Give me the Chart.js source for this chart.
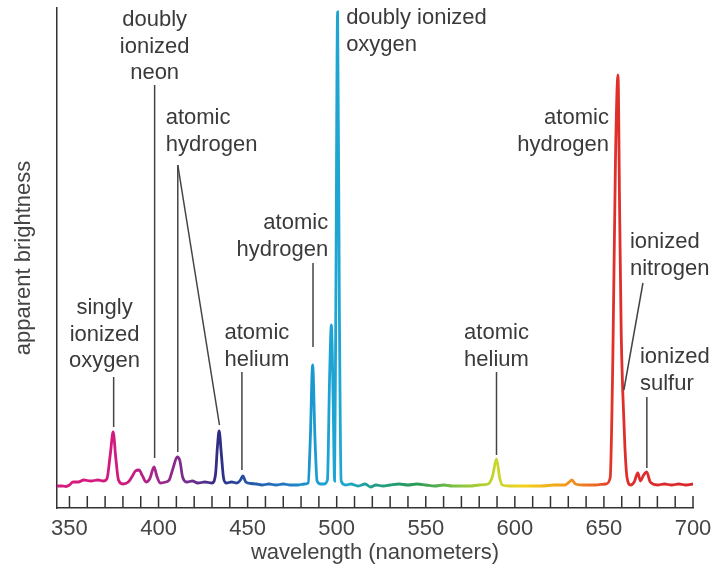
<!DOCTYPE html>
<html>
<head>
<meta charset="utf-8">
<script src="https://cdn.jsdelivr.net/npm/chart.js@4/dist/chart.umd.min.js"></script>
<style>
  html, body { margin: 0; padding: 0; background: #fff; }
  #wrap { width: 725px; height: 572px; }
</style>
</head>
<body>
<div id="wrap"><canvas id="graph"></canvas></div>
<script>
// spectrum: wavelength (nm) and apparent brightness (0-100)
var wavelengths = [
  343, 346, 348, 350, 352, 355, 358, 362, 366, 369, 371, 373, 374.5, 376, 377.5,
  380, 383, 385, 387, 389, 391, 393, 395, 397.5, 399, 401, 404, 406, 408, 410.5,
  412, 413.5, 416, 419, 422, 426, 430, 432, 433, 434, 435.2, 436.5, 438, 441, 444,
  446, 447.3, 449, 452, 455, 458, 462, 466, 470, 474, 478, 482, 484, 485.2, 486.5,
  487.8, 489, 491, 493, 494.8, 496, 497, 498, 498.8, 499.5, 500.5, 501.5, 502.5, 505, 508,
  512, 516, 519, 522, 526, 530, 535, 540, 545, 550, 555, 560, 565, 570, 575,
  580, 585, 587.5, 589.7, 591.5, 593, 597, 602, 608, 615, 622, 628, 630.5, 632, 634,
  638, 645, 651, 653.5, 655, 656.5, 657.9, 658.8, 659.7, 660.6, 661.8, 663, 665, 667, 669,
  670.5, 672, 674, 676, 680, 684, 688, 692, 696, 700
];
var brightness = [
  4.4, 4.4, 4.3, 4.6, 5.2, 5.2, 5.6, 5.4, 5.6, 5.4, 5.8, 11, 15.2, 10, 5.6,
  4.8, 5.2, 6.2, 7.4, 7.6, 6.4, 5.2, 5.8, 8.2, 6.4, 5.0, 5.2, 5.6, 7.8, 10.2,
  9.4, 6.2, 5.2, 5.4, 5.0, 5.2, 5.0, 6.8, 12, 15.4, 11, 6, 5.0, 5.2, 5.0,
  5.6, 6.4, 5.2, 4.9, 4.8, 4.6, 4.8, 4.6, 4.8, 4.6, 4.6, 4.8, 5.0, 14, 28.6,
  14, 5.4, 4.8, 4.8, 5.6, 26, 36.6, 22, 5.4, 40, 99.2, 40, 5.4, 4.6, 4.8,
  4.4, 4.8, 4.2, 4.6, 4.4, 4.6, 4.8, 4.6, 4.8, 4.6, 4.4, 4.6, 4.4, 4.4, 4.4,
  4.6, 4.8, 6.4, 9.8, 6, 4.6, 4.4, 4.4, 4.4, 4.4, 4.6, 4.6, 5.2, 5.6, 4.8,
  4.6, 4.6, 4.8, 6, 30, 70, 86.6, 60, 35, 23, 12, 6, 4.6, 5.2, 7,
  5.4, 6.4, 7.2, 5.2, 4.6, 4.8, 4.6, 4.8, 4.6, 4.8
];
var xLabelEvery = 50;

// rainbow along the wavelength axis
var colorStopsNm = [343, 380, 400, 420, 434, 450, 475, 490, 505, 520, 545, 570, 590, 605, 625, 645, 655, 700];
var colorStops = ['#d81b7e', '#d0197f', '#a0288a', '#6a2f8f', '#2e2c84', '#2455a8', '#1f80c5', '#1aa0d5',
                  '#20a8d0', '#1f9e8a', '#2b9a58', '#8cc63f', '#c8d62b', '#f3d21a', '#f3a21e', '#ec6a25',
                  '#e0302a', '#d9262d'];

// annotation labels: text lines, where the text sits (nm, brightness) and leader lines
var notes = [
  {lines: ['doubly', 'ionized', 'neon'], at: [397.8, 97.6], align: 'center', leaders: [[397.8, 84.6, 397.8, 10]]},
  {lines: ['atomic', 'hydrogen'], at: [404, 78], align: 'left', leaders: [[410.8, 68.6, 410.8, 11.2], [410.8, 68.6, 434.2, 16.6]]},
  {lines: ['singly', 'ionized', 'oxygen'], at: [369.7, 40], align: 'center', leaders: [[374.8, 26.2, 374.8, 16.2]]},
  {lines: ['atomic', 'helium'], at: [455.2, 35], align: 'center', leaders: [[446.8, 27.2, 446.8, 7.6]]},
  {lines: ['atomic', 'hydrogen'], at: [495.2, 57], align: 'right', leaders: [[486.7, 49, 486.7, 32.2]]},
  {lines: ['doubly ionized', 'oxygen'], at: [505.3, 98], align: 'left', leaders: []},
  {lines: ['atomic', 'hydrogen'], at: [652.8, 78], align: 'right', leaders: []},
  {lines: ['ionized', 'nitrogen'], at: [664.6, 53.2], align: 'left', leaders: [[671.9, 45, 661.2, 23.6]]},
  {lines: ['ionized', 'sulfur'], at: [670.2, 30.2], align: 'left', leaders: [[674.1, 22.2, 674.1, 8]]},
  {lines: ['atomic', 'helium'], at: [589.7, 35], align: 'center', leaders: [[589.7, 27.2, 589.7, 10.6]]}
];

var points = wavelengths.map(function(w, i){ return {x: w, y: brightness[i]}; });

function rainbow(context){
    var chart = context.chart;
    var area = chart.chartArea;
    if (!area) return '#d9262d';
    var xs = chart.scales.x;
    var x0 = xs.getPixelForValue(colorStopsNm[0]);
    var x1 = xs.getPixelForValue(colorStopsNm[colorStopsNm.length - 1]);
    var g = chart.ctx.createLinearGradient(x0, 0, x1, 0);
    for (var i = 0; i < colorStopsNm.length; i++){
        var p = (xs.getPixelForValue(colorStopsNm[i]) - x0) / (x1 - x0);
        g.addColorStop(Math.min(1, Math.max(0, p)), colorStops[i]);
    }
    return g;
}

var inwardTicksAndNotes = {
    id: 'inwardTicksAndNotes',
    afterDraw: function(chart){
        var c = chart.ctx;
        var xs = chart.scales.x, ys = chart.scales.y;
        var bottom = chart.chartArea.bottom;
        c.save();
        c.strokeStyle = '#333';
        c.lineWidth = 1.5;
        xs.ticks.forEach(function(t){
            if (t.value % 10 !== 0) return;
            var px = xs.getPixelForValue(t.value);
            c.beginPath();
            c.moveTo(px, bottom);
            c.lineTo(px, bottom - 12);
            c.stroke();
        });

        c.font = '22px "Liberation Sans", Arial, sans-serif';
        c.fillStyle = '#3a3a3a';
        c.textBaseline = 'middle';
        c.strokeStyle = '#444';
        c.lineWidth = 1.5;
        notes.forEach(function(n){
            c.textAlign = n.align;
            var tx = xs.getPixelForValue(n.at[0]);
            var ty = ys.getPixelForValue(n.at[1]);
            n.lines.forEach(function(line, i){
                c.fillText(line, tx, ty + i * 26.5);
            });
            n.leaders.forEach(function(l){
                c.beginPath();
                c.moveTo(xs.getPixelForValue(l[0]), ys.getPixelForValue(l[1]));
                c.lineTo(xs.getPixelForValue(l[2]), ys.getPixelForValue(l[3]));
                c.stroke();
            });
        });
        c.restore();
    }
};

var chart_context = document.getElementById('graph').getContext('2d');
var chart = new Chart(chart_context, {
    type: 'line',
    data: {
        datasets: [{
            data: points,
            borderColor: rainbow,
            borderWidth: 2.8,
            pointRadius: 0,
            tension: 0.25,
            cubicInterpolationMode: 'monotone',
            fill: false
        }]
    },
    options: {
        responsive: true,
        maintainAspectRatio: false,
        animation: false,
        layout: { padding: {top: 8, right: 32, left: 0, bottom: 7} },
        plugins: { legend: {display: false}, tooltip: {enabled: false} },
        scales: {
            x: {
                type: 'linear',
                min: 343,
                max: 700,
                grid: { display: false, drawTicks: false },
                border: { display: true, color: '#333', width: 1.5 },
                afterFit: function(s){ s.height = 57; },
                ticks: {
                    stepSize: 10,
                    includeBounds: false,
                    autoSkip: false,
                    maxRotation: 0,
                    padding: 8,
                    color: '#444',
                    font: { family: '"Liberation Sans", Arial, sans-serif', size: 22 },
                    callback: function(v){ return v % xLabelEvery === 0 ? v : ''; }
                },
                title: {
                    display: true,
                    text: 'wavelength (nanometers)',
                    color: '#444',
                    padding: {top: 0, bottom: 0},
                    font: { family: '"Liberation Sans", Arial, sans-serif', size: 22, lineHeight: 1.1 }
                }
            },
            y: {
                min: 0,
                max: 100,
                grid: { display: false, drawTicks: false },
                border: { display: true, color: '#333', width: 1.5 },
                ticks: { display: false },
                afterFit: function(s){ s.width = 57; },
                title: {
                    display: true,
                    text: 'apparent brightness',
                    color: '#444',
                    padding: {top: 12, bottom: 0},
                    font: { family: '"Liberation Sans", Arial, sans-serif', size: 22, lineHeight: 1.1 }
                }
            }
        }
    },
    plugins: [inwardTicksAndNotes]
});
</script>
</body>
</html>
